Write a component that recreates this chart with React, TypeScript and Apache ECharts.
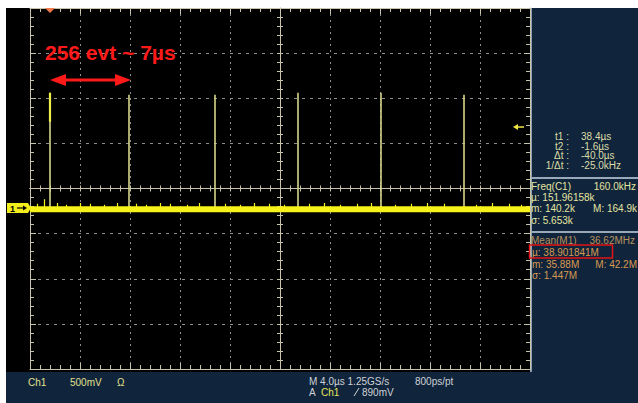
import React, { useEffect, useRef } from "react";
import * as echarts from "echarts";

// ---- data ----
const timeMin = -20; // µs, 4 µs/div, 10 div
const timeMax = 20;
const timeDiv = 4;
const voltMin = -2; // V, 0.5 V/div, 8 div
const voltMax = 2;
const voltDiv = 0.5;
const baselineLevel = -0.23;
const pulseTimes = [-18.46, -12.08, -5.2, 1.38, 8.08, 14.66];
const pulseTops = [1.06, 1.04, 1.04, 1.06, 1.06, 1.04];
const firstPulseBrightBottom = 0.74;
const noiseTimes = [-19.4, -18.9, -17.8, -17.1, -16.0, -15.2, -14.1, -13.0, -11.5, -10.7, -9.6, -8.8, -7.4, -6.5, -4.4, -3.2, -2.1, -0.9, 0.3, 2.3, 3.5, 4.8, 6.2, 7.3, 9.2, 10.5, 11.8, 13.1, 15.7, 17.0, 18.3, 19.3];
const noiseTops = [-0.17, -0.12, -0.16, -0.18, -0.16, -0.17, -0.18, -0.16, -0.17, -0.18, -0.16, -0.17, -0.18, -0.16, -0.17, -0.18, -0.16, -0.17, -0.18, -0.17, -0.16, -0.18, -0.17, -0.16, -0.18, -0.17, -0.16, -0.17, -0.18, -0.16, -0.17, -0.18];
const cursorLabels = ["t1 :", "t2 :", "Δt :", "1/Δt :"];
const cursorValues = ["38.4µs", "-1.6µs", "-40.0µs", "-25.0kHz"];
const freqTitle = ["Freq(C1)", "160.0kHz"];
const freqRows = ["µ: 151.96158k", "m: 140.2k", "σ: 5.653k"];
const freqMax = "M: 164.9k";
const meanTitle = ["Mean(M1)", "36.62MHz"];
const meanRows = ["µ: 38.901841M", "m: 35.88M", "σ: 1.447M"];
const meanMax = "M: 42.2M";
const annotationText = "256 evt ~ 7µs";

const FONT = '"Liberation Sans", Arial, sans-serif';
const tickColor = "#c8c4ac";
const gridColor = "#8e8e8e";
const paleYellow = "#dcdca6";
const freqYellow = "#e4e4a0";
const meanOrange = "#d89a50";

function txt(x: number, y: number, text: string, fill: string, opts: any = {}) {
  const align = opts.align || "left";
  return {
    type: "text",
    x,
    y,
    z: 100,
    style: {
      text,
      fill,
      font: opts.font || `10px ${FONT}`,
      textAlign: align,
      align,
      textVerticalAlign: "middle",
      verticalAlign: "middle",
    },
  };
}

function borderAxis(position: string, isX: boolean) {
  return {
    type: "value",
    min: isX ? timeMin : voltMin,
    max: isX ? timeMax : voltMax,
    interval: isX ? timeDiv : voltDiv,
    position,
    axisLine: { show: true, onZero: false, lineStyle: { color: tickColor, width: 1 } },
    axisTick: { show: true, inside: true, length: 6, lineStyle: { color: tickColor } },
    minorTick: { show: true, splitNumber: 5, length: 4, lineStyle: { color: tickColor } },
    axisLabel: { show: false },
    splitLine: { show: false },
  };
}

function centerAxis(position: string, isX: boolean) {
  return {
    type: "value",
    min: isX ? timeMin : voltMin,
    max: isX ? timeMax : voltMax,
    interval: isX ? timeDiv : voltDiv,
    position,
    axisLine: { show: true, onZero: true, onZeroAxisIndex: 0, lineStyle: { color: tickColor, width: 1 } },
    axisTick: { show: true, inside: false, length: 3, lineStyle: { color: tickColor } },
    minorTick: { show: true, splitNumber: 5, length: 3, lineStyle: { color: tickColor } },
    axisLabel: { show: false },
    splitLine: { show: false },
  };
}

export default function App() {
  const ref = useRef<HTMLDivElement>(null);

  useEffect(() => {
    document.body.style.margin = "0";
    if (!ref.current) return;
    const chart = echarts.init(ref.current, undefined, { renderer: "svg" });

    const xMain: any = borderAxis("bottom", true);
    xMain.splitLine = { show: true, lineStyle: { color: gridColor, type: [2, 4], width: 1 } };
    const yMain: any = borderAxis("left", false);
    yMain.splitLine = { show: true, lineStyle: { color: gridColor, type: [3, 5], width: 1 } };

    const pulseLines: any[] = [];
    pulseTimes.forEach((t, i) => {
      pulseLines.push({ coords: [[t, baselineLevel], [t, pulseTops[i]]] });
    });
    pulseLines.push({
      coords: [[pulseTimes[0], firstPulseBrightBottom], [pulseTimes[0], pulseTops[0]]],
      lineStyle: { color: "#eef04a", width: 2.2 },
    });
    const noiseLines = noiseTimes.map((t, i) => ({ coords: [[t, baselineLevel], [t, noiseTops[i]]] }));

    const cursorRowsY = [136, 146, 155.5, 165];
    const graphic: any[] = [];
    cursorLabels.forEach((l, i) => {
      graphic.push(txt(569, cursorRowsY[i], l, paleYellow, { align: "right" }));
      graphic.push(txt(581, cursorRowsY[i], cursorValues[i], paleYellow));
    });
    graphic.push({ type: "line", z: 100, shape: { x1: 531, y1: 178, x2: 638, y2: 178 }, style: { stroke: "#9aa9ba", lineWidth: 2 } });
    graphic.push(txt(531, 186, freqTitle[0], freqYellow));
    graphic.push(txt(636, 186, freqTitle[1], freqYellow, { align: "right" }));
    const freqY = [197.5, 208.5, 220];
    freqRows.forEach((r, i) => graphic.push(txt(531, freqY[i], r, freqYellow)));
    graphic.push(txt(637, freqY[1], freqMax, freqYellow, { align: "right" }));
    graphic.push({ type: "line", z: 100, shape: { x1: 531, y1: 232, x2: 638, y2: 232 }, style: { stroke: "#9aa9ba", lineWidth: 2 } });
    graphic.push(txt(531, 240, meanTitle[0], "#b8925e"));
    graphic.push(txt(635, 240, meanTitle[1], "#b8925e", { align: "right" }));
    const meanY = [252, 264, 275.5];
    meanRows.forEach((r, i) => graphic.push(txt(532, meanY[i], r, meanOrange)));
    graphic.push(txt(637, meanY[1], meanMax, meanOrange, { align: "right" }));
    graphic.push({ type: "rect", z: 101, shape: { x: 529.5, y: 245, width: 83, height: 13 }, style: { fill: "none", stroke: "#e01414", lineWidth: 1.5 } });

    // bottom status bar
    graphic.push(txt(28, 382, "Ch1", "#e2e08e"));
    graphic.push(txt(70, 382, "500mV", "#e2e08e"));
    graphic.push(txt(117, 382, "Ω", "#e2e08e"));
    graphic.push(txt(309, 381, "M 4.0µs 1.25GS/s", "#cfd2d6"));
    graphic.push(txt(415, 381, "800ps/pt", "#cfd2d6"));
    graphic.push(txt(309, 392, "A", "#cfd2d6"));
    graphic.push(txt(321, 392, "Ch1", "#e6e45a"));
    graphic.push({ type: "line", z: 100, shape: { x1: 354, y1: 396, x2: 359, y2: 388 }, style: { stroke: "#cfd2d6", lineWidth: 1 } });
    graphic.push(txt(362, 392, "890mV", "#cfd2d6"));

    // channel marker, trigger markers
    graphic.push({ type: "rect", z: 100, shape: { x: 7, y: 203, width: 21, height: 10 }, style: { fill: "#f2ee1c" } });
    graphic.push(txt(10, 208.5, "1", "#000", { font: `bold 9px ${FONT}` }));
    graphic.push({ type: "line", z: 101, shape: { x1: 17, y1: 208, x2: 24, y2: 208 }, style: { stroke: "#000", lineWidth: 1.2 } });
    graphic.push({ type: "polygon", z: 101, shape: { points: [[27, 208], [23, 205.5], [23, 210.5]] }, style: { fill: "#000" } });
    graphic.push({ type: "polygon", z: 100, shape: { points: [[28, 203], [31, 208], [28, 213]] }, style: { fill: "#f2ee1c" } });
    graphic.push({ type: "polygon", z: 100, shape: { points: [[45, 8], [55, 8], [50, 13]] }, style: { fill: "#f07a4a" } });
    graphic.push({ type: "polygon", z: 100, shape: { points: [[513, 127], [518, 124], [518, 130]] }, style: { fill: "#f0e640" } });
    graphic.push({ type: "line", z: 100, shape: { x1: 517, y1: 127, x2: 524, y2: 127 }, style: { stroke: "#f0e640", lineWidth: 1.5 } });

    // red annotation
    graphic.push(txt(45, 52, annotationText, "#ff1a1a", { font: `bold 21px ${FONT}` }));
    graphic.push({ type: "line", z: 100, shape: { x1: 60, y1: 80, x2: 121, y2: 80 }, style: { stroke: "#ff1a1a", lineWidth: 3 } });
    graphic.push({ type: "polygon", z: 100, shape: { points: [[50, 80], [66, 74], [66, 86]] }, style: { fill: "#ff1a1a" } });
    graphic.push({ type: "polygon", z: 100, shape: { points: [[131, 80], [115, 74], [115, 86]] }, style: { fill: "#ff1a1a" } });

    chart.setOption({
      animation: false,
      grid: { left: 30, top: 8, width: 500, height: 361, containLabel: false },
      xAxis: [xMain, borderAxis("top", true), centerAxis("bottom", true), centerAxis("top", true)],
      yAxis: [yMain, borderAxis("right", false), centerAxis("left", false), centerAxis("right", false)],
      series: [
        {
          type: "lines",
          coordinateSystem: "cartesian2d",
          xAxisIndex: 0,
          yAxisIndex: 0,
          data: pulseLines,
          lineStyle: { color: "#d6d68c", width: 1.6, opacity: 1 },
          z: 3,
          silent: true,
        },
        {
          type: "line",
          xAxisIndex: 0,
          yAxisIndex: 0,
          data: [[timeMin, baselineLevel], [timeMax, baselineLevel]],
          symbol: "none",
          lineStyle: { color: "#f6f21a", width: 6 },
          z: 4,
          silent: true,
        },
        {
          type: "lines",
          coordinateSystem: "cartesian2d",
          xAxisIndex: 0,
          yAxisIndex: 0,
          data: noiseLines,
          lineStyle: { color: "#f6f21a", width: 1.2, opacity: 1 },
          z: 5,
          silent: true,
        },
      ],
      graphic,
    });
    return () => chart.dispose();
  }, []);

  return (
    <div style={{ position: "fixed", left: 0, top: 0, width: 638, height: 403, background: "#ffffff", overflow: "hidden" }}>
      <div style={{ position: "absolute", left: 6, top: 8, width: 525, height: 364, background: "#000000" }} />
      <div style={{ position: "absolute", left: 531, top: 8, width: 107, height: 395, background: "#10243c" }} />
      <div style={{ position: "absolute", left: 6, top: 372, width: 632, height: 31, background: "#10243c" }} />
      <div style={{ position: "absolute", left: 530, top: 8, width: 2, height: 364, background: "#8d9fb4" }} />
      <div ref={ref} style={{ position: "absolute", left: 0, top: 0, width: 638, height: 403 }} />
    </div>
  );
}
